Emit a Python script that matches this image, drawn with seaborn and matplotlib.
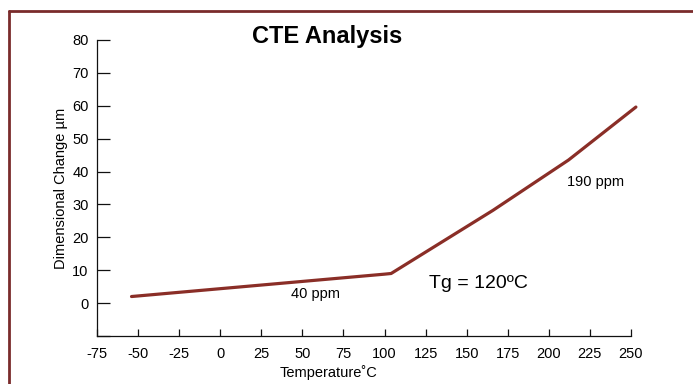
import matplotlib
matplotlib.use("Agg")
import matplotlib.pyplot as plt
from matplotlib.lines import Line2D
import seaborn as sns
import pandas as pd

# data
temperature = [-54, 100, 104, 166, 212, 253]
dim_change = [2.0, 8.8, 9.0, 28.2, 43.5, 59.6]
x_ticks = [-75, -50, -25, 0, 25, 50, 75, 100, 125, 150, 175, 200, 225, 250]
y_ticks = [0, 10, 20, 30, 40, 50, 60, 70, 80]

line_color = "#8a2e27"
frame_color = "#7a2b2b"

sns.set_style("ticks")
plt.rcParams['font.family'] = ['Liberation Sans', 'DejaVu Sans']
plt.rcParams['axes.unicode_minus'] = False

df = pd.DataFrame({"Temperature": temperature, "Change": dim_change})

fig = plt.figure(figsize=(6.93, 3.84), dpi=100)
ax = fig.add_axes([0.140, 0.125, 0.7705, 0.771])

sns.lineplot(data=df, x="Temperature", y="Change", ax=ax, color=line_color,
             linewidth=2.3, sort=False)
for ln in ax.lines:
    ln.set_clip_on(False)

ax.set_xlim(-75, 250)
ax.set_ylim(-10, 80)
ax.set_xticks(x_ticks)
ax.set_yticks([-10] + y_ticks)
ax.set_yticklabels([""] + [str(v) for v in y_ticks])
sns.despine(ax=ax)
for s in ["left", "bottom"]:
    ax.spines[s].set_linewidth(0.9)
    ax.spines[s].set_color("#111111")
ax.tick_params(axis="y", direction="in", length=9, width=0.9, pad=6,
               labelsize=10.5, colors="#111111", labelcolor="black")
ax.tick_params(axis="x", direction="in", length=5, width=0.9, pad=8,
               labelsize=10.5, colors="#111111", labelcolor="black")

ax.set_xlabel("")
ax.set_ylabel("Dimensional Change \u00b5m", fontsize=10.5, labelpad=3,
              color="black")

# labels placed like the reference
fig.text(329 / 693, 1 - 373 / 384, "Temperature\u02daC", ha="center", va="center",
         fontsize=10.5, color="black")
fig.text(327 / 693, 1 - 37 / 384, "CTE Analysis", ha="center", va="center",
         fontsize=17, fontweight="bold", color="black")

ax.text(57.7, 2.75, "40 ppm", ha="center", va="center", fontsize=10.5,
        color="black")
ax.text(157, 6.1, "Tg = 120\u00baC", ha="center", va="center", fontsize=14,
        color="black")
ax.text(228.7, 36.7, "190 ppm", ha="center", va="center", fontsize=10.5,
        color="black")

# page frame: top and left edges
fig.add_artist(Line2D([8.5 / 693, 8.5 / 693], [0, 1 - 10.5 / 384],
                      transform=fig.transFigure, color=frame_color, lw=2))
fig.add_artist(Line2D([8.5 / 693, 1], [1 - 10.5 / 384, 1 - 10.5 / 384],
                      transform=fig.transFigure, color=frame_color, lw=2))

fig.savefig("out.png", dpi=100)
